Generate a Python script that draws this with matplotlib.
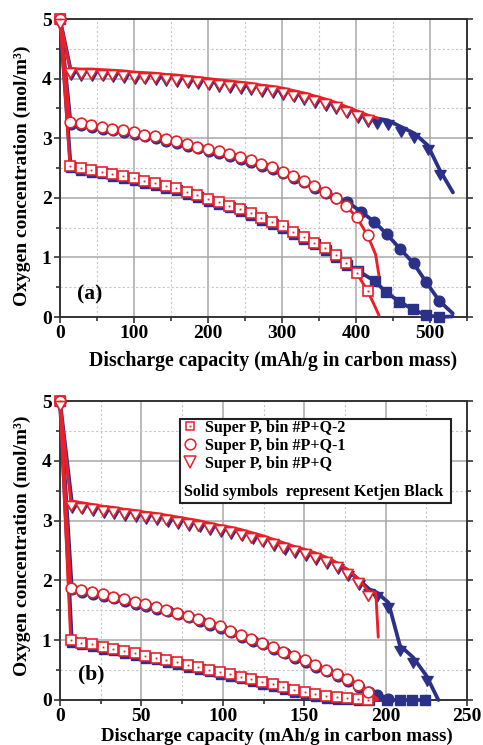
import matplotlib
matplotlib.use('Agg')
import matplotlib.pyplot as plt
from matplotlib.path import Path
from matplotlib.ticker import MultipleLocator
from matplotlib.patches import Rectangle
from matplotlib.lines import Line2D

plt.rcParams['font.family'] = ['Liberation Serif', 'DejaVu Serif']
plt.rcParams['font.weight'] = 'bold'

RED = '#e8202a'
BLUE = '#2b3088'

# ---------------- Panel (a) data ----------------
a_x = [0, 13.5, 27.9, 42.2, 56.6, 70.9, 85.3, 99.7, 114.0, 128.4, 142.7, 157.1, 171.5,
       185.8, 200.2, 214.5, 228.9, 243.3, 257.6, 272.0, 286.3, 300.7, 315.1, 329.4,
       343.8, 358.1, 372.5, 386.9, 401.2, 415.6]
a_tri_red = [5, 4.17, 4.16, 4.16, 4.15, 4.14, 4.13, 4.11, 4.10, 4.09, 4.07, 4.06, 4.04,
             4.02, 4.00, 3.98, 3.96, 3.94, 3.92, 3.89, 3.87, 3.84, 3.80, 3.76,
             3.71, 3.66, 3.60, 3.53, 3.46, 3.39]
a_tri_red_tail_x = [430]
a_tri_red_tail_y = [3.33]
a_cir_red = [5, 3.27, 3.25, 3.22, 3.19, 3.16, 3.13, 3.10, 3.06, 3.03, 2.99, 2.95, 2.90,
             2.86, 2.82, 2.78, 2.73, 2.68, 2.63, 2.57, 2.51, 2.44, 2.37, 2.29,
             2.20, 2.10, 2.00, 1.86, 1.67, 1.37]
a_cir_red_tail_x = [426.5, 431]
a_cir_red_tail_y = [1.05, 0.70]
a_sq_red = [5, 2.54, 2.50, 2.47, 2.44, 2.40, 2.37, 2.33, 2.28, 2.24, 2.20, 2.16, 2.10,
            2.05, 1.98, 1.93, 1.87, 1.81, 1.74, 1.66, 1.59, 1.52, 1.43, 1.34,
            1.25, 1.15, 1.04, 0.90, 0.73, 0.44]
a_sq_red_tail_x = [424, 431]
a_sq_red_tail_y = [0.22, 0.03]

a_tri_blue_x = [0, 14.5, 28.9, 43.2, 57.6, 71.9, 86.3, 100.7, 115.0, 129.4, 143.7, 158.1,
                172.5, 186.8, 201.2, 215.5, 229.9, 244.3, 258.6, 273.0, 287.3, 301.7,
                316.1, 330.4, 344.8, 359.1, 373.5, 387.9, 402.2, 416.6,
                429, 443, 461, 479, 497, 513]
a_tri_blue_y = [5, 4.14, 4.13, 4.13, 4.12, 4.11, 4.10, 4.08, 4.07, 4.06, 4.04, 4.03,
                4.01, 3.99, 3.97, 3.95, 3.93, 3.91, 3.89, 3.86, 3.84, 3.81,
                3.77, 3.73, 3.68, 3.63, 3.57, 3.50, 3.43, 3.36,
                3.33, 3.30, 3.19, 3.08, 2.88, 2.47]
a_tri_blue_tail_x = [531]
a_tri_blue_tail_y = [2.09]
a_cir_blue_x = [0, 14.5, 28.9, 43.2, 57.6, 71.9, 86.3, 100.7, 115.0, 129.4, 143.7, 158.1,
                172.5, 186.8, 201.2, 215.5, 229.9, 244.3, 258.6, 273.0, 287.3, 301.7,
                316.1, 330.4, 344.8, 359.1, 373.5,
                388.4, 406.5, 424.5, 441.7, 459.8, 477.9, 494.6, 512.6]
a_cir_blue_y = [5, 3.24, 3.22, 3.19, 3.16, 3.13, 3.10, 3.07, 3.03, 3.00, 2.96, 2.92,
                2.87, 2.83, 2.79, 2.75, 2.70, 2.65, 2.60, 2.54, 2.48, 2.41,
                2.34, 2.26, 2.17, 2.08, 1.99,
                1.93, 1.77, 1.60, 1.39, 1.14, 0.90, 0.59, 0.27]
a_cir_blue_tail_x = [530.7]
a_cir_blue_tail_y = [0.06]
a_sq_blue_x = [0, 14.5, 28.9, 43.2, 57.6, 71.9, 86.3, 100.7, 115.0, 129.4, 143.7, 158.1,
               172.5, 186.8, 201.2, 215.5, 229.9, 244.3, 258.6, 273.0, 287.3, 301.7,
               316.1, 330.4, 344.8, 359.1, 373.5, 387.9, 402.2,
               425.5, 440.4, 458.4, 476.5, 494.6, 512.6]
a_sq_blue_y = [5, 2.51, 2.47, 2.44, 2.41, 2.37, 2.34, 2.30, 2.25, 2.21, 2.17, 2.13,
               2.07, 2.02, 1.95, 1.90, 1.84, 1.78, 1.71, 1.63, 1.56, 1.49,
               1.40, 1.31, 1.22, 1.12, 1.01, 0.88, 0.78,
               0.60, 0.42, 0.26, 0.13, 0.03, 0.0]
a_sq_blue_tail_x = [530.7]
a_sq_blue_tail_y = [0.01]

# ---------------- Panel (b) data ----------------
b_x = [0, 6.6, 13.1, 19.7, 26.2, 32.7, 39.3, 45.8, 52.3, 58.8, 65.4, 71.9, 78.4, 85.0,
       91.5, 98.0, 104.6, 111.1, 117.6, 124.1, 130.7, 137.2, 143.7, 150.3, 156.8,
       163.3, 169.9, 176.4, 182.9, 189.4]
b_tri_red = [5, 3.33, 3.30, 3.27, 3.24, 3.22, 3.19, 3.17, 3.14, 3.12, 3.09, 3.06, 3.03,
             3.00, 2.96, 2.92, 2.89, 2.85, 2.80, 2.75, 2.69, 2.63, 2.57, 2.52, 2.46,
             2.39, 2.30, 2.19, 2.04, 1.82]
b_tri_red_tail_x = [194, 195.5]
b_tri_red_tail_y = [1.79, 1.05]
b_cir_red = [5, 1.88, 1.84, 1.80, 1.77, 1.73, 1.69, 1.64, 1.60, 1.56, 1.51, 1.46, 1.41,
             1.35, 1.29, 1.23, 1.16, 1.09, 1.02, 0.96, 0.88, 0.81, 0.74, 0.67, 0.59,
             0.51, 0.43, 0.35, 0.25, 0.13]
b_cir_red_tail_x = [195]
b_cir_red_tail_y = [0.02]
b_sq_red = [5, 1.00, 0.96, 0.93, 0.89, 0.86, 0.82, 0.78, 0.74, 0.71, 0.67, 0.63, 0.59,
            0.55, 0.51, 0.47, 0.43, 0.39, 0.35, 0.30, 0.26, 0.22, 0.17, 0.13, 0.10,
            0.07, 0.05, 0.03, 0.02, 0.0]
b_sq_red_tail_x = [195]
b_sq_red_tail_y = [0.0]

b_tri_blue_x = [0, 7.3, 13.8, 20.4, 26.9, 33.4, 40.0, 46.5, 53.0, 59.5, 66.1, 72.6, 79.1,
                85.7, 92.2, 98.7, 105.3, 111.8, 118.3, 124.8, 131.4, 137.9, 144.4,
                151.0, 157.5, 164.0, 170.6, 177.1, 183.6, 190.1,
                194.5, 201.7, 208.8, 217.0, 225.2]
b_tri_blue_y = [5, 3.30, 3.27, 3.24, 3.21, 3.19, 3.16, 3.14, 3.11, 3.09, 3.06, 3.03, 3.00,
                2.97, 2.93, 2.89, 2.86, 2.82, 2.77, 2.72, 2.66, 2.60, 2.54, 2.49, 2.43,
                2.36, 2.27, 2.16, 2.01, 1.85,
                1.80, 1.63, 0.91, 0.71, 0.40]
b_tri_blue_tail_x = [232.4]
b_tri_blue_tail_y = [0.0]
b_cir_blue_x = [0, 7.3, 13.8, 20.4, 26.9, 33.4, 40.0, 46.5, 53.0, 59.5, 66.1, 72.6, 79.1,
                85.7, 92.2, 98.7, 105.3, 111.8, 118.3, 124.8, 131.4, 137.9, 144.4,
                151.0, 157.5, 164.0, 170.6, 177.1, 183.6, 190.1, 195.0, 201.7]
b_cir_blue_y = [5, 1.85, 1.81, 1.77, 1.74, 1.70, 1.66, 1.61, 1.57, 1.53, 1.48, 1.43, 1.38,
                1.32, 1.26, 1.20, 1.13, 1.06, 0.99, 0.93, 0.85, 0.78, 0.71, 0.64, 0.56,
                0.48, 0.40, 0.32, 0.22, 0.13, 0.09, 0.02]
b_cir_blue_tail_x = []
b_cir_blue_tail_y = []
b_sq_blue_x = [0, 7.3, 13.8, 20.4, 26.9, 33.4, 40.0, 46.5, 53.0, 59.5, 66.1, 72.6, 79.1,
               85.7, 92.2, 98.7, 105.3, 111.8, 118.3, 124.8, 131.4, 137.9, 144.4,
               151.0, 157.5, 164.0, 170.6, 177.1, 183.6, 190.1,
               201.0, 208.8, 216.5, 224.2]
b_sq_blue_y = [5, 0.97, 0.93, 0.90, 0.86, 0.83, 0.79, 0.75, 0.71, 0.68, 0.64, 0.60, 0.56,
               0.52, 0.48, 0.44, 0.40, 0.36, 0.32, 0.27, 0.23, 0.19, 0.14, 0.10, 0.07,
               0.04, 0.02, 0.01, 0.0, 0.0,
               0.0, 0.0, 0.0, 0.0]
b_sq_blue_tail_x = []
b_sq_blue_tail_y = []

legend_labels = ['Super P, bin #P+Q-2', 'Super P, bin #P+Q-1', 'Super P, bin #P+Q']
note_text = 'Solid symbols  represent Ketjen Black'
x_label = 'Discharge capacity (mAh/g in carbon mass)'
y_label = 'Oxygen concentration (mol/m\u00b3)'

# hanging down-triangle (top edge on the data point, like the original)
TRI = Path([(-0.5, 0.0), (0.5, 0.0), (0.0, -0.866), (-0.5, 0.0)],
           [Path.MOVETO, Path.LINETO, Path.LINETO, Path.CLOSEPOLY])

MS = {'tri': 14.0, 'cir': 7.7, 'sq': 6.9}
MK = {'tri': TRI, 'cir': 'o', 'sq': 's'}


def series(ax, x, y, tx, ty, kind, color, filled, z):
    ax.plot(list(x) + list(tx), list(y) + list(ty), '-', color=color,
            lw=2.7 if filled else 2.1, zorder=z, clip_on=False,
            solid_capstyle='round', solid_joinstyle='round')
    ax.plot(x, y, ls='none', marker=MK[kind], ms=MS[kind],
            mfc=color if filled else 'white', mec=color,
            mew=1.0 if filled else 1.2, zorder=z + 0.1, clip_on=False)
    if kind == 'sq' and not filled:
        ax.plot(x, y, ls='none', marker='s', ms=1.3, mfc=color, mec=color,
                mew=0, zorder=z + 0.2, clip_on=False)


def style_axes(ax, xmax, xmaj, xmin):
    ax.set_xlim(0, xmax)
    ax.set_ylim(0, 5)
    ax.xaxis.set_major_locator(MultipleLocator(xmaj))
    ax.xaxis.set_minor_locator(MultipleLocator(xmin))
    ax.yaxis.set_major_locator(MultipleLocator(1))
    ax.yaxis.set_minor_locator(MultipleLocator(0.5))
    ax.grid(which='major', color='#a8a8a8', lw=1.1, ls='-', zorder=0)
    ax.grid(which='minor', color='#c8c8c8', lw=0.8, ls=(0, (2, 2)), zorder=0)
    ax.set_axisbelow(True)
    for s in ax.spines.values():
        s.set_linewidth(1.4)
        s.set_color('#333333')
    ax.tick_params(which='both', direction='out', right=True, top=False,
                   width=1.2, color='#333333')
    ax.tick_params(which='major', length=4.5, labelsize=14, pad=1.5)
    ax.tick_params(which='minor', length=3)
    for lab in ax.get_xticklabels() + ax.get_yticklabels():
        lab.set_fontweight('bold')


fig = plt.figure(figsize=(4.83, 7.45), dpi=100)
W, H = 483.0, 745.0
ax1 = fig.add_axes([60 / W, 1 - 317 / H, 407 / W, 298 / H])
ax2 = fig.add_axes([60 / W, 1 - 700 / H, 407 / W, 299 / H])

style_axes(ax1, 550, 100, 50)
style_axes(ax2, 250, 50, 25)

# panel (a)
series(ax1, a_sq_blue_x, a_sq_blue_y, a_sq_blue_tail_x, a_sq_blue_tail_y, 'sq', BLUE, True, 3)
series(ax1, a_cir_blue_x, a_cir_blue_y, a_cir_blue_tail_x, a_cir_blue_tail_y, 'cir', BLUE, True, 3)
series(ax1, a_tri_blue_x, a_tri_blue_y, a_tri_blue_tail_x, a_tri_blue_tail_y, 'tri', BLUE, True, 3)
series(ax1, a_x, a_sq_red, a_sq_red_tail_x, a_sq_red_tail_y, 'sq', RED, False, 4)
series(ax1, a_x, a_cir_red, a_cir_red_tail_x, a_cir_red_tail_y, 'cir', RED, False, 4)
series(ax1, a_x, a_tri_red, a_tri_red_tail_x, a_tri_red_tail_y, 'tri', RED, False, 4)

# panel (b)
series(ax2, b_sq_blue_x, b_sq_blue_y, b_sq_blue_tail_x, b_sq_blue_tail_y, 'sq', BLUE, True, 3)
series(ax2, b_cir_blue_x, b_cir_blue_y, b_cir_blue_tail_x, b_cir_blue_tail_y, 'cir', BLUE, True, 3)
series(ax2, b_tri_blue_x, b_tri_blue_y, b_tri_blue_tail_x, b_tri_blue_tail_y, 'tri', BLUE, True, 3)
series(ax2, b_x, b_sq_red, b_sq_red_tail_x, b_sq_red_tail_y, 'sq', RED, False, 4)
series(ax2, b_x, b_cir_red, b_cir_red_tail_x, b_cir_red_tail_y, 'cir', RED, False, 4)
series(ax2, b_x, b_tri_red, b_tri_red_tail_x, b_tri_red_tail_y, 'tri', RED, False, 4)

# panel labels
ax1.text(23, 0.37, '(a)', fontsize=15.5, fontweight='bold', va='center', ha='left', zorder=6)
ax2.text(11, 0.42, '(b)', fontsize=15.5, fontweight='bold', va='center', ha='left', zorder=6)

# axis labels
fig.text(22 / W, 1 - 176 / H, y_label, rotation=90, ha='center', va='center',
         fontsize=14, fontweight='bold')
fig.text(22 / W, 1 - 546 / H, y_label, rotation=90, ha='center', va='center',
         fontsize=14, fontweight='bold')
fig.text(273 / W, 1 - 366.5 / H, x_label, ha='center', va='baseline', fontsize=14.2,
         fontweight='bold')
fig.text(277 / W, 1 - 741 / H, x_label, ha='center', va='baseline', fontsize=13.6,
         fontweight='bold')

# legend box in (b)
box = Rectangle(((180 - 60) / 407, (700 - 503) / 299), (451 - 180) / 407, (503 - 419) / 299,
                transform=ax2.transAxes, fc='white', ec='#222222', lw=1.5, zorder=7,
                clip_on=False)
ax2.add_patch(box)
h_sq = (Line2D([], [], ls='none', marker='s', ms=6.2, mfc='white', mec=RED, mew=1.1),
        Line2D([], [], ls='none', marker='s', ms=1.3, mfc=RED, mec=RED, mew=0))
h_ci = Line2D([], [], ls='none', marker='o', ms=7.7, mfc='white', mec=RED, mew=1.1)
h_tr = Line2D([], [], ls='none', marker='v', ms=9, mfc='white', mec=RED, mew=1.1)
leg = ax2.legend([h_sq, h_ci, h_tr], legend_labels, loc='upper left',
                 bbox_to_anchor=((182 - 60) / 407, (700 - 420) / 299), frameon=False,
                 fontsize=11.5, handlelength=1.0, handletextpad=0.45, borderpad=0.0,
                 borderaxespad=0.0, labelspacing=0.12)
leg.set_zorder(8)
for t in leg.get_texts():
    t.set_fontweight('bold')
ax2.text((184 - 60) / 407, (700 - 492.5) / 299, note_text, transform=ax2.transAxes,
         fontsize=11.5, fontweight='bold', ha='left', va='center', zorder=9)

fig.savefig('out.png', dpi=100)
